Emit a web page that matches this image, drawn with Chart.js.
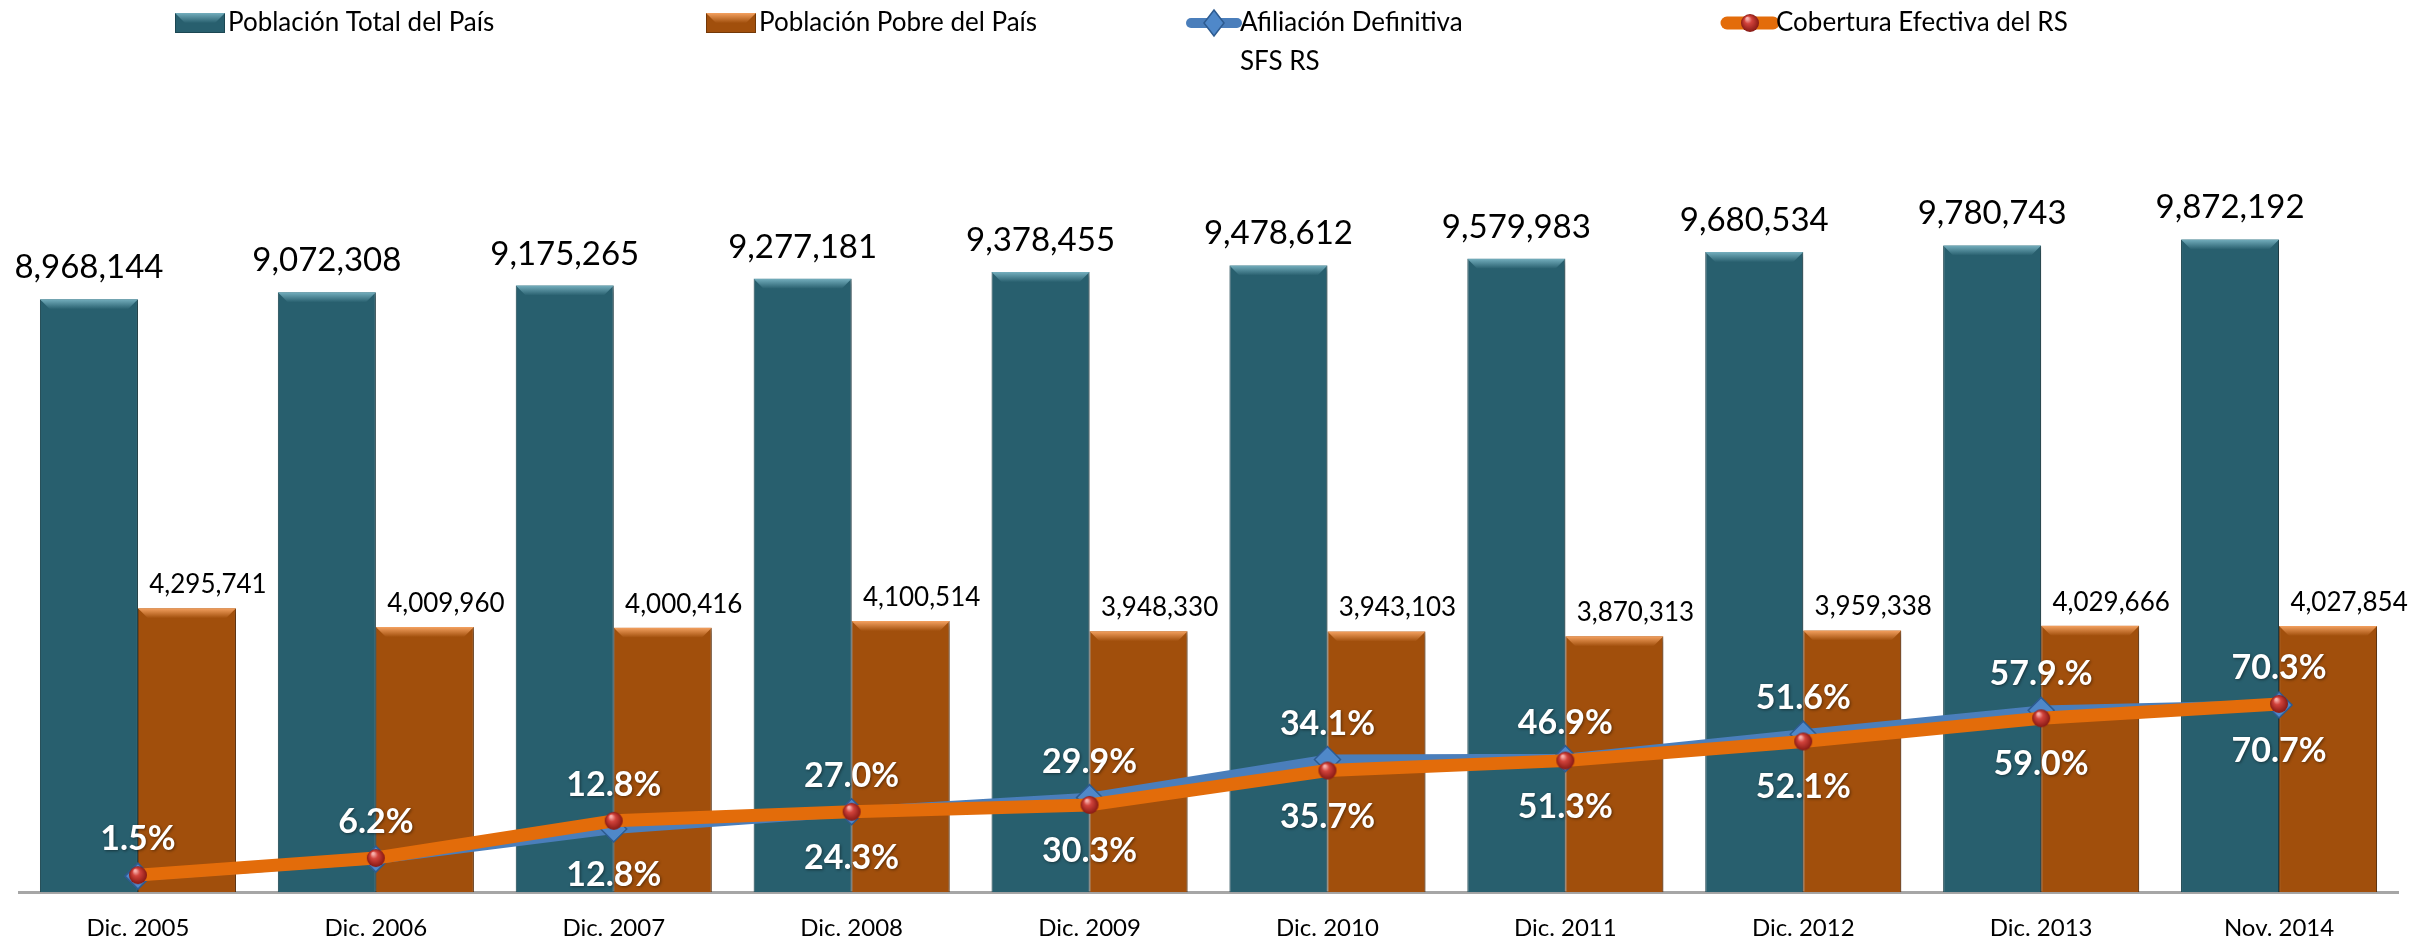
<!DOCTYPE html>
<html lang="es">
<head>
<meta charset="utf-8">
<title>Población y afiliación SFS RS</title>
<script src="https://cdn.jsdelivr.net/npm/chart.js@4.4.1/dist/chart.umd.min.js"></script>
<style>
  html, body { margin:0; padding:0; background:#fff; }
  #wrap { width:2434px; height:940px; position:relative; }
</style>
</head>
<body>
<div id="wrap"><canvas id="chart"></canvas></div>
<script>
/* ========= Datos ========= */
const categorias = ['Dic. 2005','Dic. 2006','Dic. 2007','Dic. 2008','Dic. 2009',
                    'Dic. 2010','Dic. 2011','Dic. 2012','Dic. 2013','Nov. 2014'];

const poblacionTotal = [8968144, 9072308, 9175265, 9277181, 9378455,
                        9478612, 9579983, 9680534, 9780743, 9872192];
const poblacionPobre = [4295741, 4009960, 4000416, 4100514, 3948330,
                        3943103, 3870313, 3959338, 4029666, 4027854];

const afiliacionSFS = [243000, 500000, 957000, 1216000, 1430000,
                       2006000, 2020000, 2390000, 2750000, 2832000];
const coberturaRS   = [258000, 517000, 1079000, 1216000, 1320000,
                       1840000, 1990000, 2280000, 2630000, 2848000];

// etiquetas de porcentaje tal como aparecen en el gráfico
const afiliacionPct = ['1.5%','6.2%','12.8%','27.0%','29.9%','34.1%','46.9%','51.6%','57.9.%','70.3%'];
const coberturaPct  = [null, null,'12.8%','24.3%','30.3%','35.7%','51.3%','52.1%','59.0%','70.7%'];

/* ========= Estilo ========= */
const FONT = 'Lato';
const C = {
  teal:'#285F6E', tealDark:'#1C4752', tealLight:'#74AEBD',
  orange:'#A14F0C', orangeDark:'#733807', orangeLight:'#F4A160',
  blue:'#4A7EBB', blueFill:'#4F88C9', blueDark:'#2D5B90',
  line:'#E36C0A'
};

function sphere(r){
  const c = document.createElement('canvas');
  c.width = c.height = r*2 + 2;
  const g = c.getContext('2d');
  const grd = g.createRadialGradient(r*0.8, r*0.6, 1, r+1, r+1, r);
  grd.addColorStop(0, '#F7B0AC');
  grd.addColorStop(0.35, '#D2433C');
  grd.addColorStop(1, '#861913');
  g.fillStyle = grd;
  g.beginPath(); g.arc(r+1, r+1, r, 0, Math.PI*2); g.fill();
  return c;
}
const redBall = sphere(9);

function bevel(ctx, bar, light, base){
  const {x, y, width} = bar.getProps(['x','y','width'], true);
  const l = x - width/2, r = x + width/2, d = 10;
  const g = ctx.createLinearGradient(0, y, 0, y + d);
  g.addColorStop(0, light); g.addColorStop(1, base);
  ctx.fillStyle = g;
  ctx.beginPath();
  ctx.moveTo(l, y); ctx.lineTo(r, y); ctx.lineTo(r - d, y + d); ctx.lineTo(l + d, y + d);
  ctx.closePath(); ctx.fill();
}

/* ========= Plugins ========= */
const barShadow = {
  id: 'barShadow',
  beforeDatasetDraw(chart, args){
    if (args.meta.type !== 'bar') return;
    const ctx = chart.ctx;
    ctx.save();
    ctx.shadowColor = 'rgba(0,0,0,0.35)';
    ctx.shadowBlur = 6; ctx.shadowOffsetX = 3; ctx.shadowOffsetY = 2;
  },
  afterDatasetDraw(chart, args){
    if (args.meta.type !== 'bar') return;
    const ctx = chart.ctx;
    ctx.restore();
    const [light, base] = args.index === 0 ? [C.tealLight, C.teal] : [C.orangeLight, C.orange];
    ctx.save();
    args.meta.data.forEach(b => bevel(ctx, b, light, base));
    ctx.restore();
  }
};

const labels = {
  id: 'labels',
  afterDatasetsDraw(chart){
    const ctx = chart.ctx;
    const mT = chart.getDatasetMeta(0), mP = chart.getDatasetMeta(1);
    const mA = chart.getDatasetMeta(2), mC = chart.getDatasetMeta(3);
    ctx.save();
    ctx.fillStyle = '#000';
    ctx.textAlign = 'center';
    ctx.textBaseline = 'alphabetic';
    ctx.font = `33px ${FONT}`;
    mT.data.forEach((b, i) => ctx.fillText(poblacionTotal[i].toLocaleString('en-US'), b.x, b.y - 21));
    ctx.font = `26px ${FONT}`;
    mP.data.forEach((b, i) => ctx.fillText(poblacionPobre[i].toLocaleString('en-US'), b.x + 21, b.y - 15));

    ctx.font = `bold 34px ${FONT}`;
    ctx.fillStyle = '#fff';
    ctx.textBaseline = 'middle';
    ctx.shadowColor = 'rgba(0,0,0,0.45)';
    ctx.shadowBlur = 3; ctx.shadowOffsetX = 1; ctx.shadowOffsetY = 1;
    categorias.forEach((_, i) => {
      const a = mA.data[i], c = mC.data[i];
      const top = Math.min(a.y, c.y), bot = Math.max(a.y, c.y);
      if (afiliacionPct[i]) ctx.fillText(afiliacionPct[i], a.x, top - 36);
      if (coberturaPct[i]) ctx.fillText(coberturaPct[i], c.x, bot + 46);
    });
    ctx.restore();
  }
};

const legendBox = {
  id: 'legendBox',
  afterDraw(chart){
    const ctx = chart.ctx;
    const ds = chart.data.datasets;
    const xs = [175, 706, 1187, 1723];
    const yc = 23;
    ctx.save();
    ds.forEach((d, i) => {
      const x = xs[i];
      if (d.type === 'line') {
        ctx.strokeStyle = d.borderColor;
        ctx.lineWidth = d.borderWidth;
        ctx.lineCap = 'round';
        ctx.beginPath(); ctx.moveTo(x + 4, yc); ctx.lineTo(x + 50, yc); ctx.stroke();
        if (d.pointStyle === 'rectRot') {
          ctx.fillStyle = d.pointBackgroundColor;
          ctx.strokeStyle = d.pointBorderColor; ctx.lineWidth = 1.5;
          ctx.beginPath();
          ctx.moveTo(x + 27, yc - 13); ctx.lineTo(x + 37, yc); ctx.lineTo(x + 27, yc + 13); ctx.lineTo(x + 17, yc);
          ctx.closePath(); ctx.fill(); ctx.stroke();
        } else {
          ctx.drawImage(redBall, x + 27 - redBall.width/2, yc - redBall.height/2);
        }
      } else {
        ctx.fillStyle = d.backgroundColor;
        ctx.fillRect(x, yc - 10, 50, 20);
        ctx.strokeStyle = d.borderColor; ctx.lineWidth = 1;
        ctx.strokeRect(x + 0.5, yc - 9.5, 49, 19);
        bevel(ctx, { getProps: () => ({ x: x + 25, y: yc - 10, width: 50 }) },
              i === 0 ? C.tealLight : C.orangeLight, d.backgroundColor);
      }
      ctx.fillStyle = '#000';
      ctx.font = `26px ${FONT}`;
      ctx.textAlign = 'left';
      ctx.textBaseline = 'middle';
      d.label.split('\n').forEach((t, k) => ctx.fillText(t, x + 53, yc + k * 39));
    });
    ctx.restore();
  }
};

/* ========= Gráfico ========= */
function build(){
  Chart.defaults.font.family = FONT;
  new Chart(document.getElementById('chart'), {
    type: 'bar',
    data: {
      labels: categorias,
      datasets: [
        { label:'Población Total del País', data: poblacionTotal, order: 2,
          backgroundColor: C.teal, borderColor: C.tealDark, borderWidth: 1,
          categoryPercentage: 0.824, barPercentage: 1 },
        { label:'Población Pobre del País', data: poblacionPobre, order: 3,
          backgroundColor: C.orange, borderColor: C.orangeDark, borderWidth: 1,
          categoryPercentage: 0.824, barPercentage: 1 },
        { type:'line', label:'Afiliación Definitiva\nSFS RS', data: afiliacionSFS, order: 1,
          borderColor: C.blue, borderWidth: 10, tension: 0,
          pointStyle: 'rectRot', pointRadius: 13, pointBorderWidth: 1.5,
          pointBackgroundColor: C.blueFill, pointBorderColor: C.blueDark },
        { type:'line', label:'Cobertura Efectiva del RS', data: coberturaRS, order: 0,
          borderColor: C.line, borderWidth: 13, tension: 0, borderJoinStyle: 'round',
          pointStyle: redBall, pointRadius: 9 }
      ]
    },
    options: {
      responsive: true,
      maintainAspectRatio: false,
      animation: false,
      events: [],
      layout: { autoPadding: false, padding: { top: 231, left: 19, right: 36, bottom: -25 } },
      plugins: { legend: { display:false }, tooltip: { enabled:false } },
      scales: {
        x: {
          grid: { display:false, drawTicks:false },
          border: { display:true, color:'#A6A6A6', width:3 },
          ticks: { color:'#000', font:{ size:24 }, padding:22, maxRotation:0, autoSkip:false }
        },
        y: { display:false, min:0, max:10000000 }
      }
    },
    plugins: [barShadow, labels, legendBox]
  });
}

Promise.all([
  document.fonts.load(`26px ${FONT}`),
  document.fonts.load(`bold 32px ${FONT}`)
]).catch(() => {}).then(build);
</script>
</body>
</html>
